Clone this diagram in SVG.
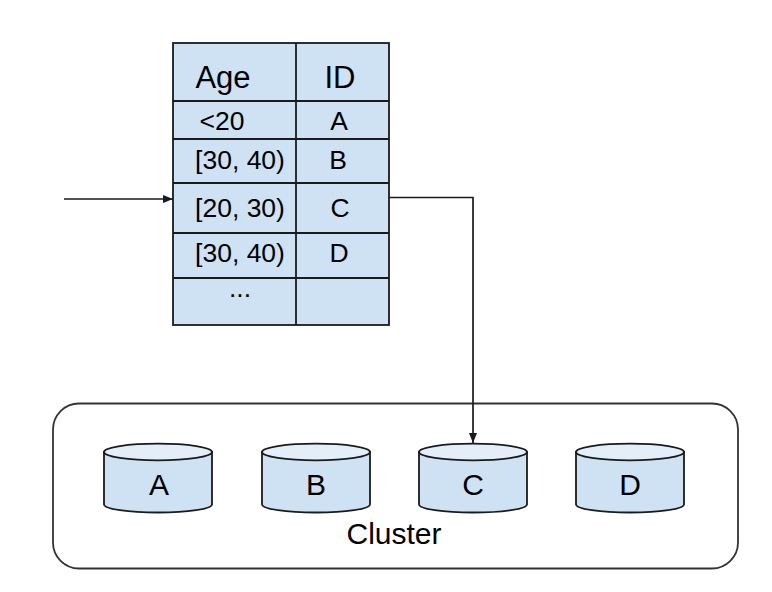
<svg xmlns="http://www.w3.org/2000/svg" width="772" height="592" viewBox="0 0 772 592">
<style>
  .cell { fill: #cfe2f3; stroke: #1a1a1a; stroke-width: 1.8; }
  .grid { stroke: #1a1a1a; stroke-width: 1.8; fill: none; }
  .hd { font-family: "Liberation Sans", Arial, sans-serif; font-size: 31px; fill: #000; text-anchor: middle; }
  .tx { font-family: "Liberation Sans", Arial, sans-serif; font-size: 26.5px; fill: #000; text-anchor: middle; }
  .big { font-family: "Liberation Sans", Arial, sans-serif; font-size: 30px; fill: #000; text-anchor: middle; }
  .cyl { fill: #cfe2f3; stroke: #1a1a1a; stroke-width: 1.8; }
  .cyltop { fill: #e3eef8; stroke: #1a1a1a; stroke-width: 1.8; }
  .conn { stroke: #1a1a1a; stroke-width: 1.7; fill: none; }
</style>
<defs>
  <marker id="arr" markerWidth="10" markerHeight="8" refX="10" refY="4" orient="auto" markerUnits="userSpaceOnUse">
    <path d="M0,0 L10,4 L0,8 Z" fill="#1a1a1a"/>
  </marker>
</defs>

<g id="cluster">
  <rect x="53" y="403.5" width="685" height="165" rx="26" ry="26" fill="#ffffff" stroke="#333" stroke-width="1.8"/>
  <text class="big" x="394" y="544">Cluster</text>
</g>

<g id="table">
  <rect class="cell" x="173" y="43" width="216" height="282"/>
  <line class="grid" x1="296" y1="43" x2="296" y2="325"/>
  <line class="grid" x1="173" y1="101" x2="389" y2="101"/>
  <line class="grid" x1="173" y1="139" x2="389" y2="139"/>
  <line class="grid" x1="173" y1="183" x2="389" y2="183"/>
  <line class="grid" x1="173" y1="233" x2="389" y2="233"/>
  <line class="grid" x1="173" y1="278" x2="389" y2="278"/>
  <text class="hd" x="223" y="87.5">Age</text>
  <text class="hd" x="340" y="87.5">ID</text>
  <text class="tx" x="222" y="130">&lt;20</text>
  <text class="tx" x="339" y="130">A</text>
  <text class="tx" x="240" y="169">[30, 40)</text>
  <text class="tx" x="338" y="169">B</text>
  <text class="tx" x="240" y="217">[20, 30)</text>
  <text class="tx" x="340" y="217">C</text>
  <text class="tx" x="240" y="262">[30, 40)</text>
  <text class="tx" x="339" y="262">D</text>
  <text class="tx" x="240" y="297">...</text>
</g>

<g id="dbA">
  <path class="cyl" d="M104,452 L104,504.5 A54,8 0 0 0 212,504.5 L212,452 Z"/>
  <ellipse class="cyltop" cx="158" cy="452" rx="54" ry="8.3"/>
  <text class="big" x="159" y="494.5">A</text>
</g>
<g id="dbB">
  <path class="cyl" d="M262,452 L262,504.5 A54,8 0 0 0 370,504.5 L370,452 Z"/>
  <ellipse class="cyltop" cx="316" cy="452" rx="54" ry="8.3"/>
  <text class="big" x="316" y="494.5">B</text>
</g>
<g id="dbC">
  <path class="cyl" d="M419,452 L419,504.5 A54,8 0 0 0 527,504.5 L527,452 Z"/>
  <ellipse class="cyltop" cx="473" cy="452" rx="54" ry="8.3"/>
  <text class="big" x="473" y="494.5">C</text>
</g>
<g id="dbD">
  <path class="cyl" d="M576,452 L576,504.5 A54,8 0 0 0 684,504.5 L684,452 Z"/>
  <ellipse class="cyltop" cx="630" cy="452" rx="54" ry="8.3"/>
  <text class="big" x="630" y="494.5">D</text>
</g>

<g id="connectors">
  <line class="conn" x1="64" y1="199" x2="173" y2="199" marker-end="url(#arr)"/>
  <polyline class="conn" points="389,197.5 473,197.5 473,443" marker-end="url(#arr)"/>
</g>
</svg>
